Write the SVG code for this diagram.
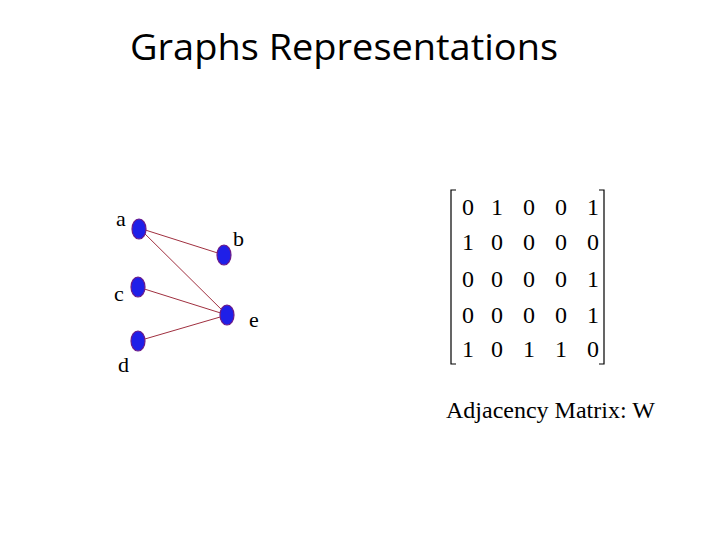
<svg xmlns="http://www.w3.org/2000/svg" width="720" height="540" viewBox="0 0 720 540">
<style>
.t{font-family:"Liberation Serif","Times New Roman",serif;fill:#000}
.n{fill:#1f1fe8;stroke:#6a1a8a;stroke-width:1.2}
.e{stroke:#a03040;stroke-width:1;fill:none}
.m{font-family:"Liberation Serif","Times New Roman",serif;font-size:24px;text-anchor:middle;fill:#000}
.br{stroke:#000;stroke-width:1.2;fill:none}
</style>
<rect width="720" height="540" fill="#fff"/>
<text x="130" y="60" font-family="Open Sans, Liberation Sans, sans-serif" font-size="37" textLength="428" lengthAdjust="spacingAndGlyphs">Graphs Representations</text>
<g id="connectors">
<line class="e" x1="139" y1="228" x2="224" y2="255"/>
<line class="e" x1="139" y1="228" x2="227" y2="315"/>
<line class="e" x1="138" y1="287" x2="227" y2="315"/>
<line class="e" x1="138" y1="341" x2="227" y2="315"/>
</g>
<g id="node-a"><ellipse class="n" cx="139" cy="229" rx="7" ry="10"/><text class="t" x="116" y="226" font-size="22">a</text></g>
<g id="node-b"><ellipse class="n" cx="224" cy="255" rx="7" ry="10"/><text class="t" x="233" y="246" font-size="22">b</text></g>
<g id="node-c"><ellipse class="n" cx="138" cy="287" rx="7" ry="10"/><text class="t" x="114" y="301" font-size="22">c</text></g>
<g id="node-d"><ellipse class="n" cx="138" cy="341" rx="7" ry="10"/><text class="t" x="118" y="372" font-size="22">d</text></g>
<g id="node-e"><ellipse class="n" cx="227" cy="315" rx="7" ry="10"/><text class="t" x="249" y="327" font-size="22">e</text></g>
<g id="matrix">
<path class="br" d="M456,190 H451 V364 H456"/>
<path class="br" d="M599,190 H604 V364 H599"/>
<g class="m">
<text x="468" y="215">0</text><text x="497" y="215">1</text><text x="529" y="215">0</text><text x="561" y="215">0</text><text x="593" y="215">1</text>
<text x="468" y="250">1</text><text x="497" y="250">0</text><text x="529" y="250">0</text><text x="561" y="250">0</text><text x="593" y="250">0</text>
<text x="468" y="287">0</text><text x="497" y="287">0</text><text x="529" y="287">0</text><text x="561" y="287">0</text><text x="593" y="287">1</text>
<text x="468" y="323">0</text><text x="497" y="323">0</text><text x="529" y="323">0</text><text x="561" y="323">0</text><text x="593" y="323">1</text>
<text x="468" y="357">1</text><text x="497" y="357">0</text><text x="529" y="357">1</text><text x="561" y="357">1</text><text x="593" y="357">0</text>
</g>
</g>
<text class="t" x="446" y="418" font-size="24">Adjacency Matrix: W</text>
</svg>
